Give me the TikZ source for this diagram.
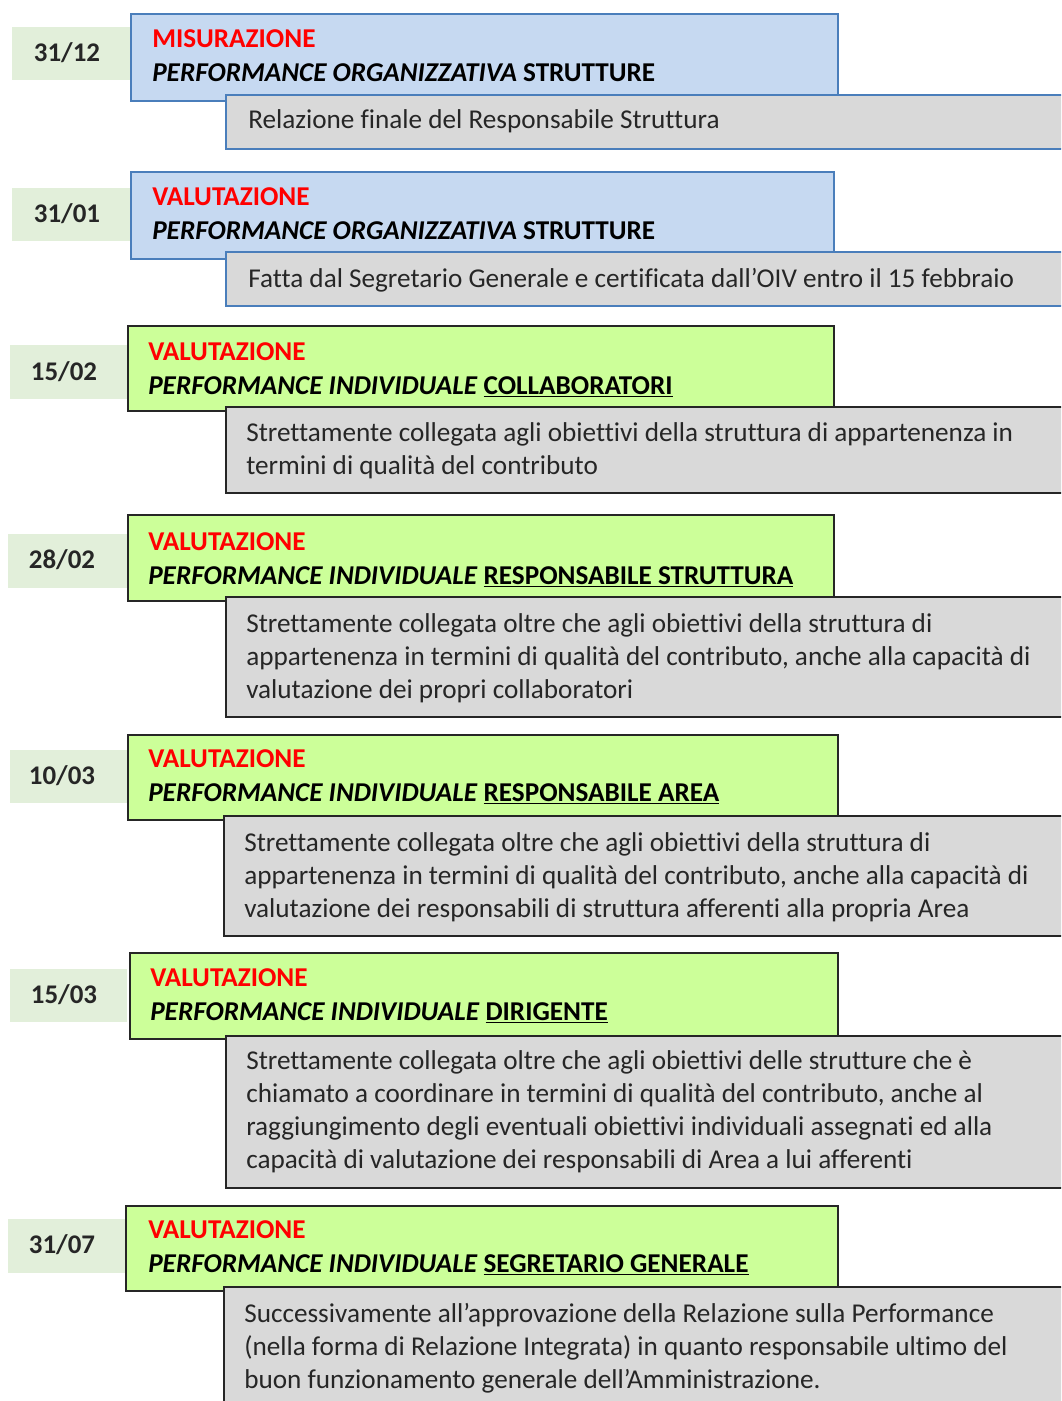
\documentclass[tikz,border=0pt]{standalone}
\usepackage{fontspec}
\setmainfont[Ligatures=NoCommon]{Carlito}
\usetikzlibrary{fit}
\definecolor{bluefill}{HTML}{C6D9F1}
\definecolor{blueline}{HTML}{4A7EBB}
\definecolor{greenfill}{HTML}{CCFF99}
\definecolor{darkline}{HTML}{262626}
\definecolor{greyfill}{HTML}{D9D9D9}
\definecolor{datefill}{HTML}{E2EFDA}
\definecolor{headred}{HTML}{FF0000}
\definecolor{bodytext}{HTML}{262626}
% multi-line body text whose reference point is the first baseline
\newcommand{\lines}[1]{\begin{tabular}[t]{@{}l@{}}#1\end{tabular}}
\begin{document}
\begin{tikzpicture}[x=0.75pt,y=-0.75pt,
  frame/.style={inner sep=0pt,outer sep=0pt,line width=1.4pt},
  bluebox/.style={frame,draw=blueline,fill=bluefill},
  greenbox/.style={frame,draw=darkline,fill=greenfill},
  greybluebox/.style={frame,draw=blueline,fill=greyfill},
  greybox/.style={frame,draw=darkline,fill=greyfill},
  datebox/.style={inner sep=0pt,outer sep=0pt,fill=datefill},
  datetext/.style={inner sep=0pt,font=\fontsize{20.2}{24}\selectfont\bfseries,text=darkline},
  headtext/.style={anchor=base west,inner sep=0pt,font=\fontsize{20.4}{24.75}\selectfont\bfseries,text=headred},
  titletext/.style={anchor=base west,inner sep=0pt,font=\fontsize{20.4}{24.75}\selectfont\bfseries,text=black},
  bodytxt/.style={anchor=base west,inner sep=0pt,font=\fontsize{20.4}{24.75}\selectfont,text=bodytext}
]
\clip (0,0) rectangle (1061,1401);

% 31/12 -- misurazione
\node[datebox,fit={(12,27)(130,80)}] (d1) {};
\node[datetext] (d1t) at (67,53) {31/12};
\node[bluebox,fit={(131,14)(838,101)}] (b1) {};
\node[greybluebox,fit={(226,95)(1075,149)}] (g1) {};
\node[headtext] (h1) at (152,48) {MISURAZIONE};
\node[titletext] (t1) at (152,82) {\textit{PERFORMANCE ORGANIZZATIVA} STRUTTURE};
\node[bodytxt] (x1) at (248,129) {Relazione finale del Responsabile Struttura};

% 31/01 -- valutazione strutture
\node[datebox,fit={(12,188)(130,241)}] (d2) {};
\node[datetext] (d2t) at (67,214) {31/01};
\node[bluebox,fit={(131,172)(834,259)}] (b2) {};
\node[greybluebox,fit={(226,252)(1075,306)}] (g2) {};
\node[headtext] (h2) at (152,206) {VALUTAZIONE};
\node[titletext] (t2) at (152,240) {\textit{PERFORMANCE ORGANIZZATIVA} STRUTTURE};
\node[bodytxt] (x2) at (248,287) {Fatta dal Segretario Generale e certificata dall’OIV entro il 15 febbraio};

% 15/02 -- collaboratori
\node[datebox,fit={(10,345)(127,399)}] (d3) {};
\node[datetext] (d3t) at (64,372) {15/02};
\node[greenbox,fit={(128,326)(834,411)}] (b3) {};
\node[greybox,fit={(226,407)(1075,493)}] (g3) {};
\node[headtext] (h3) at (148,360) {VALUTAZIONE};
\node[titletext] (t3) at (148,394) {\textit{PERFORMANCE INDIVIDUALE} \underline{COLLABORATORI}};
\node[bodytxt] (x3) at (246,441) {\lines{Strettamente collegata agli obiettivi della struttura di appartenenza in\\termini di qualità del contributo}};

% 28/02 -- responsabile struttura
\node[datebox,fit={(8,534)(127,588)}] (d4) {};
\node[datetext] (d4t) at (62,560) {28/02};
\node[greenbox,fit={(128,515)(834,601)}] (b4) {};
\node[greybox,fit={(226,597)(1075,717)}] (g4) {};
\node[headtext] (h4) at (148,550) {VALUTAZIONE};
\node[titletext] (t4) at (148,584) {\textit{PERFORMANCE INDIVIDUALE} \underline{RESPONSABILE STRUTTURA}};
\node[bodytxt] (x4) at (246,632) {\lines{Strettamente collegata oltre che agli obiettivi della struttura di\\appartenenza in termini di qualità del contributo, anche alla capacità di\\valutazione dei propri collaboratori}};

% 10/03 -- responsabile area
\node[datebox,fit={(10,750)(127,803)}] (d5) {};
\node[datetext] (d5t) at (62,776) {10/03};
\node[greenbox,fit={(128,735)(838,820)}] (b5) {};
\node[greybox,fit={(224,816)(1075,936)}] (g5) {};
\node[headtext] (h5) at (148,767) {VALUTAZIONE};
\node[titletext] (t5) at (148,801) {\textit{PERFORMANCE INDIVIDUALE} \underline{RESPONSABILE AREA}};
\node[bodytxt] (x5) at (244,851) {\lines{Strettamente collegata oltre che agli obiettivi della struttura di\\appartenenza in termini di qualità del contributo, anche alla capacità di\\valutazione dei responsabili di struttura afferenti alla propria Area}};

% 15/03 -- dirigente
\node[datebox,fit={(10,969)(127,1022)}] (d6) {};
\node[datetext] (d6t) at (64,995) {15/03};
\node[greenbox,fit={(130,953)(838,1039)}] (b6) {};
\node[greybox,fit={(226,1036)(1075,1188)}] (g6) {};
\node[headtext] (h6) at (150,986) {VALUTAZIONE};
\node[titletext] (t6) at (150,1020) {\textit{PERFORMANCE INDIVIDUALE} \underline{DIRIGENTE}};
\node[bodytxt] (x6) at (246,1069) {\lines{Strettamente collegata oltre che agli obiettivi delle strutture che è\\chiamato a coordinare in termini di qualità del contributo, anche al\\raggiungimento degli eventuali obiettivi individuali assegnati ed alla\\capacità di valutazione dei responsabili di Area a lui afferenti}};

% 31/07 -- segretario generale
\node[datebox,fit={(8,1219)(125,1273)}] (d7) {};
\node[datetext] (d7t) at (62,1245) {31/07};
\node[greenbox,fit={(126,1206)(838,1291)}] (b7) {};
\node[greybox,fit={(224,1287)(1075,1420)}] (g7) {};
\node[headtext] (h7) at (148,1238) {VALUTAZIONE};
\node[titletext] (t7) at (148,1272) {\textit{PERFORMANCE INDIVIDUALE} \underline{SEGRETARIO GENERALE}};
\node[bodytxt] (x7) at (244,1322) {\lines{Successivamente all’approvazione della Relazione sulla Performance\\(nella forma di Relazione Integrata) in quanto responsabile ultimo del\\buon funzionamento generale dell’Amministrazione.}};
\end{tikzpicture}
\end{document}
